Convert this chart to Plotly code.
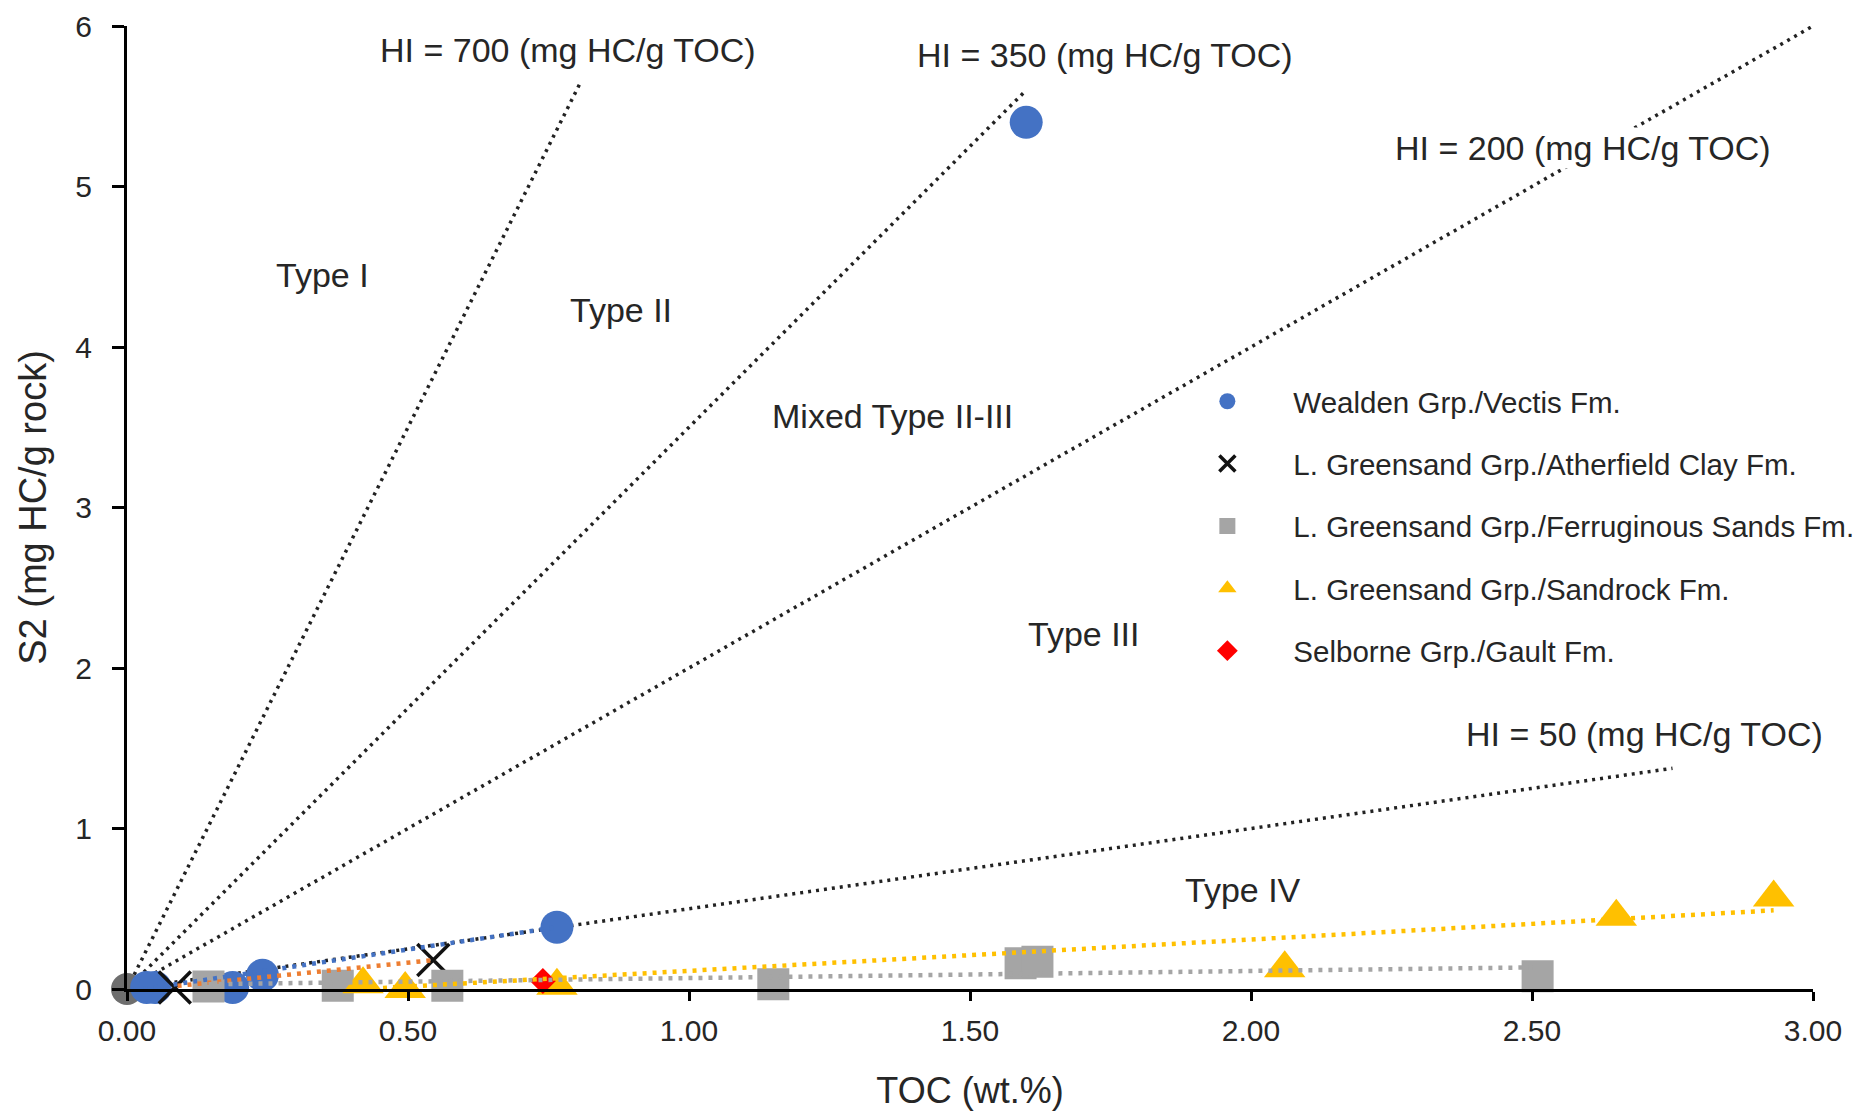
import plotly.graph_objects as go

# ---- data ----
wealden_toc = [0.035, 0.05, 0.188, 0.241, 0.765, 1.60]
wealden_s2 = [0.01, 0.01, 0.01, 0.085, 0.385, 5.40]

atherfield_toc = [0.085, 0.545]
atherfield_s2 = [0.01, 0.18]

ferrug_toc = [0.145, 0.375, 0.57, 1.15, 1.59, 1.62, 2.51]
ferrug_s2 = [0.015, 0.02, 0.02, 0.03, 0.16, 0.17, 0.08]

sandrock_toc = [0.42, 0.495, 0.765, 2.06, 2.65, 2.93]
sandrock_s2 = [0.03, 0.0, 0.02, 0.13, 0.45, 0.57]

gault_toc = [0.74]
gault_s2 = [0.05]

origin_toc = [0.0]
origin_s2 = [0.0]

# HI reference lines (start at origin, end points)
hi_labels = ["HI = 700 (mg HC/g TOC)", "HI = 350 (mg HC/g TOC)",
             "HI = 200 (mg HC/g TOC)", "HI = 50 (mg HC/g TOC)"]
hi_end_toc = [0.805, 1.60, 3.00, 2.75]
hi_end_s2 = [5.635, 5.60, 6.00, 1.375]
hi_label_x = [0.785, 1.74, 2.59, 2.70]
hi_label_y = [5.85, 5.82, 5.24, 1.59]

# trendline end points
trend_wealden_x = [0.03, 0.765]
trend_wealden_y = [0.0, 0.385]
trend_atherfield_x = [0.09, 0.545]
trend_atherfield_y = [0.02, 0.18]
trend_ferrug_x = [0.145, 2.51]
trend_ferrug_y = [0.03, 0.135]
trend_sandrock_x = [0.42, 2.93]
trend_sandrock_y = [0.0, 0.49]

type_labels = ["Type I", "Type II", "Mixed Type II-III", "Type III", "Type IV"]
type_x = [0.347, 0.879, 1.362, 1.703, 1.985]
type_y = [4.45, 4.23, 3.57, 2.21, 0.616]

x_ticks = [0.0, 0.5, 1.0, 1.5, 2.0, 2.5, 3.0]
y_ticks = [0, 1, 2, 3, 4, 5, 6]

FONT = "Liberation Sans, Arial, sans-serif"
TXT = "#262626"

fig = go.Figure()

# HI lines
for xe, ye in zip(hi_end_toc, hi_end_s2):
    fig.add_trace(go.Scatter(x=[0, xe], y=[0, ye], mode="lines",
                             line=dict(color="#222222", width=3.5, dash="3px,5px"),
                             showlegend=False, hoverinfo="skip"))

fig.add_trace(go.Scatter(x=origin_toc, y=origin_s2, mode="markers",
                         marker=dict(symbol="circle", size=32, color="#6e6e6e"),
                         showlegend=False, cliponaxis=False))

# data series
fig.add_trace(go.Scatter(x=wealden_toc, y=wealden_s2, mode="markers",
                         name="Wealden Grp./Vectis Fm.", legendgroup="a",
                         marker=dict(symbol="circle", size=33, color="#4472C4"),
                         cliponaxis=False))
fig.add_trace(go.Scatter(x=atherfield_toc, y=atherfield_s2, mode="markers",
                         name="L. Greensand Grp./Atherfield Clay Fm.", legendgroup="b",
                         marker=dict(symbol="x-thin", size=32, color="#111111",
                                     line=dict(color="#111111", width=3.5)),
                         cliponaxis=False))
fig.add_trace(go.Scatter(x=ferrug_toc, y=ferrug_s2, mode="markers",
                         name="L. Greensand Grp./Ferruginous Sands Fm.", legendgroup="c",
                         marker=dict(symbol="square", size=32, color="#A5A5A5"),
                         cliponaxis=False))
fig.add_trace(go.Scatter(x=sandrock_toc, y=sandrock_s2, mode="markers",
                         name="L. Greensand Grp./Sandrock Fm.", legendgroup="d",
                         marker=dict(symbol="triangle-up", size=36, color="#FFC000"),
                         cliponaxis=False))
fig.add_trace(go.Scatter(x=gault_toc, y=gault_s2, mode="markers",
                         name="Selborne Grp./Gault Fm.", legendgroup="e",
                         marker=dict(symbol="diamond", size=20, color="#FF0000"),
                         cliponaxis=False))

# trendlines on top
for tx, ty, col in [(trend_wealden_x, trend_wealden_y, "#4472C4"),
                    (trend_atherfield_x, trend_atherfield_y, "#ED7D31"),
                    (trend_ferrug_x, trend_ferrug_y, "#A5A5A5"),
                    (trend_sandrock_x, trend_sandrock_y, "#FFC000")]:
    fig.add_trace(go.Scatter(x=tx, y=ty, mode="lines",
                             line=dict(color=col, width=4.5, dash="4px,6px"),
                             showlegend=False, hoverinfo="skip"))

annotations = []
for t, x, y in zip(hi_labels, hi_label_x, hi_label_y):
    annotations.append(dict(x=x, y=y, xref="x", yref="y", text=t, showarrow=False,
                            font=dict(family=FONT, size=34, color=TXT),
                            bgcolor="white", xanchor="center", yanchor="middle"))
for t, x, y in zip(type_labels, type_x, type_y):
    annotations.append(dict(x=x, y=y, xref="x", yref="y", text=t, showarrow=False,
                            font=dict(family=FONT, size=34, color=TXT),
                            xanchor="center", yanchor="middle"))

fig.update_layout(
    width=1867, height=1112,
    margin=dict(l=119, r=62, t=18, b=131, autoexpand=False),
    paper_bgcolor="white", plot_bgcolor="white",
    font=dict(family=FONT, color=TXT),
    annotations=annotations,
    legend=dict(x=0.6135, y=0.637, xanchor="left", yanchor="top",
                font=dict(family=FONT, size=29.5, color=TXT),
                itemwidth=122, tracegroupgap=21, bgcolor="rgba(0,0,0,0)",
                traceorder="grouped"),
    xaxis=dict(range=[0, 3], tickvals=x_ticks, tickformat=".2f", automargin=False,
               showgrid=False, zeroline=False, showline=True, linecolor="black",
               linewidth=3, ticks="outside", ticklen=9, tickwidth=3, tickcolor="black",
               tickfont=dict(family=FONT, size=30, color=TXT), ticklabelstandoff=4,
               title=dict(text="TOC (wt.%)", font=dict(family=FONT, size=36, color=TXT),
                          standoff=32)),
    yaxis=dict(range=[0, 6], tickvals=y_ticks, automargin=False,
               showgrid=False, zeroline=False, showline=True, linecolor="black",
               linewidth=3, ticks="outside", ticklen=12, tickwidth=3, tickcolor="black",
               tickfont=dict(family=FONT, size=30, color=TXT), ticklabelstandoff=14,
               title=dict(text="S2 (mg HC/g rock)", font=dict(family=FONT, size=38, color=TXT),
                          standoff=18)),
)

fig.write_html("out.html")
